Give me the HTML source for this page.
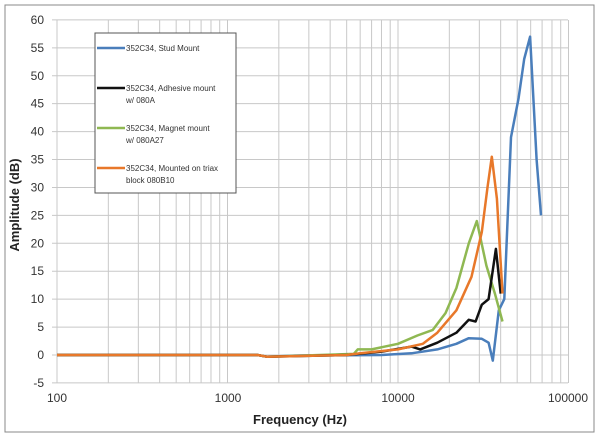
<!DOCTYPE html>
<html><head><style>body{margin:0;background:#fff}</style></head><body>
<svg id="s" width="600" height="438" xmlns="http://www.w3.org/2000/svg" font-family="Liberation Sans, sans-serif">
<rect x="0" y="0" width="600" height="438" fill="#fff"/>
<rect x="5" y="5" width="589" height="427" fill="#fff" stroke="#888" stroke-width="1"/>
<g id="grid" stroke="#c8c8c8" stroke-width="1"></g>
<g id="ylab" font-size="12" fill="#333" text-anchor="end"></g>
<g font-size="12" fill="#333" text-anchor="middle">
<text x="57" y="402">100</text><text x="228" y="402">1000</text><text x="398" y="402">10000</text><text x="568" y="402">100000</text>
</g>
<text x="300" y="424" font-size="13" font-weight="bold" text-anchor="middle" fill="#222">Frequency (Hz)</text>
<text transform="translate(19,205) rotate(-90)" font-size="13" font-weight="bold" text-anchor="middle" fill="#222">Amplitude (dB)</text>
<g id="series" fill="none" stroke-width="2.5" stroke-linejoin="round"></g>
<rect x="95" y="33" width="141" height="160" fill="#fff" stroke="#555"/>
<g font-size="8" fill="#333">
<line x1="97" y1="48" x2="125" y2="48" stroke="#4a7ebb" stroke-width="2.5"/><text x="126" y="51">352C34, Stud Mount</text>
<line x1="97" y1="88" x2="125" y2="88" stroke="#111" stroke-width="2.5"/><text x="126" y="91">352C34, Adhesive mount</text><text x="126" y="103">w/ 080A</text>
<line x1="97" y1="128" x2="125" y2="128" stroke="#8fb852" stroke-width="2.5"/><text x="126" y="131">352C34, Magnet mount</text><text x="126" y="143">w/ 080A27</text>
<line x1="97" y1="168" x2="125" y2="168" stroke="#e8782a" stroke-width="2.5"/><text x="126" y="171">352C34, Mounted on triax</text><text x="126" y="183">block 080B10</text>
</g>
</svg>
<script>
const X=f=>57+170.5*(Math.log10(f)-2), Y=v=>355-5.585*v;
const ns="http://www.w3.org/2000/svg";
const g=document.getElementById('grid'), yl=document.getElementById('ylab');
function ln(p,a){const e=document.createElementNS(ns,'line');for(const k in a)e.setAttribute(k,a[k]);p.appendChild(e);}
for(let d=100;d<100000;d*=10)for(let m=1;m<=10;m++){const x=X(d*m);ln(g,{x1:x,y1:20,x2:x,y2:383});}
for(let v=-5;v<=60;v+=5){const y=Y(v);ln(g,{x1:52,y1:y,x2:568,y2:y});const t=document.createElementNS(ns,'text');t.setAttribute('x',44);t.setAttribute('y',y+4);t.textContent=v;yl.appendChild(t);}
const S=document.getElementById('series');
function pl(c,d){const p=document.createElementNS(ns,'polyline');p.setAttribute('stroke',c);p.setAttribute('points',d.map(q=>X(q[0]).toFixed(1)+','+Y(q[1]).toFixed(1)).join(' '));S.appendChild(p);}
pl('#4a7ebb',[[100,0],[1500,0],[1700,-0.3],[2500,-0.1],[8000,0],[12000,0.3],[17000,1],[22000,2],[26000,3],[31000,2.9],[34000,2.2],[36000,-1],[39000,8],[42000,10],[46000,39],[51000,46],[55000,53],[59500,57],[65000,35],[69000,25]]);
pl('#8fb852',[[100,0],[1500,0],[1700,-0.3],[5500,0.2],[5800,1],[7000,1],[10000,2],[13000,3.5],[16000,4.5],[19000,7.5],[22000,12],[26000,20],[29000,24],[33000,16],[37000,11],[41000,6]]);
pl('#111',[[100,0],[1500,0],[1700,-0.3],[5000,0],[8000,0.6],[12000,1.5],[13500,1],[17000,2.2],[22000,4],[26000,6.3],[28500,6],[31000,9],[34000,10],[37500,19],[40000,11]]);
pl('#e8782a',[[100,0],[1500,0],[1700,-0.3],[5000,0],[6000,0.3],[10000,1],[14000,2],[17000,4],[22000,8],[27000,14],[31000,22],[33500,30],[35500,35.5],[38000,28],[41000,11]]);
</script>
</body></html>
